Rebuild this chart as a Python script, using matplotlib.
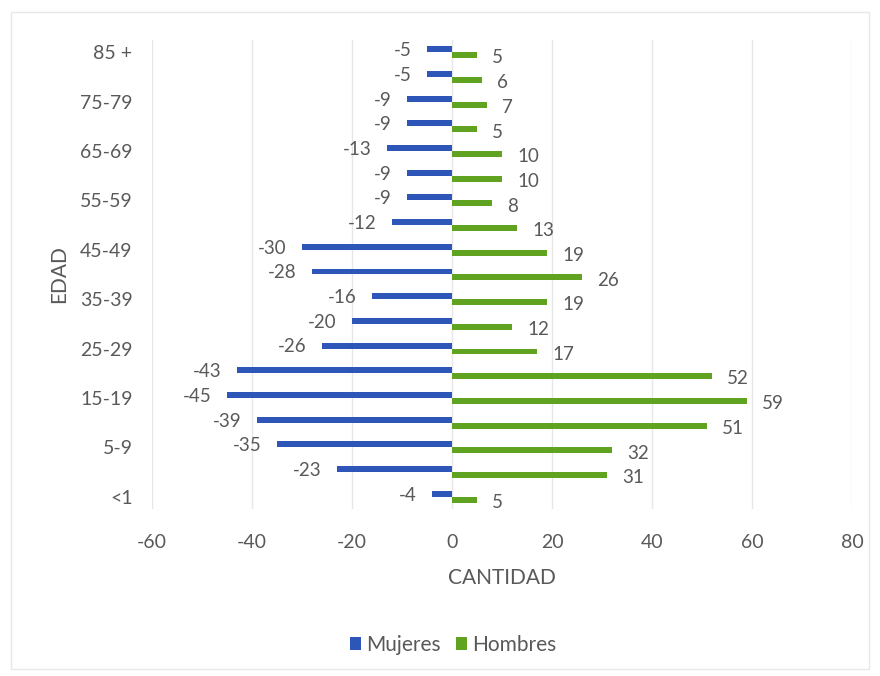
import matplotlib
matplotlib.use('Agg')
import matplotlib.pyplot as plt
from matplotlib.patches import Rectangle
import numpy as np

# Data: age groups from youngest to oldest
grupos = ['<1', '1-4', '5-9', '10-14', '15-19', '20-24', '25-29', '30-34', '35-39',
          '40-44', '45-49', '50-54', '55-59', '60-64', '65-69', '70-74', '75-79',
          '80-84', '85 +']
mujeres = [-4, -23, -35, -39, -45, -43, -26, -20, -16, -28, -30, -12, -9, -9, -13,
           -9, -9, -5, -5]
hombres = [5, 31, 32, 51, 59, 52, 17, 12, 19, 26, 19, 13, 8, 10, 10, 5, 7, 6, 5]

azul = '#2E55B8'
verde = '#5FA321'
gris = '#595959'

plt.rcParams['font.family'] = ['Lato', 'DejaVu Sans']
plt.rcParams['axes.unicode_minus'] = False

fig = plt.figure(figsize=(8.8, 6.76), dpi=100)
ax = fig.add_axes([0.1727, 0.247, 0.7955, 0.694])

y = np.arange(len(grupos))
h = 0.24
ax.barh(y + h / 2, mujeres, height=h, color=azul, label='Mujeres')
ax.barh(y - h / 2, hombres, height=h, color=verde, label='Hombres')

# Data labels
for yi, v in zip(y, mujeres):
    ax.annotate(str(v), (v, yi + h / 2), xytext=(-11, -1), textcoords='offset points',
                ha='right', va='center', fontsize=13.5, color=gris)
for yi, v in zip(y, hombres):
    ax.annotate(str(v), (v, yi - h / 2), xytext=(11, -2), textcoords='offset points',
                ha='left', va='center', fontsize=13.5, color=gris)

ax.set_xlim(-60, 80)
ax.set_ylim(-0.5, len(grupos) - 0.5)
ax.set_xticks(range(-60, 81, 20))
ax.set_yticks(y[::2])
ax.set_yticklabels(grupos[::2])
ax.tick_params(axis='both', length=0, labelsize=14, labelcolor=gris)
ax.tick_params(axis='y', pad=14)
ax.tick_params(axis='x', pad=18)
ax.grid(axis='x', color='#E6E6E6', linewidth=1)
ax.set_axisbelow(True)
for s in ax.spines.values():
    s.set_visible(False)

ax.set_xlabel('CANTIDAD', fontsize=15, color=gris, labelpad=12)
ax.set_ylabel('EDAD', fontsize=15, color=gris, labelpad=8)

leg = fig.legend(loc='center', bbox_to_anchor=(0.515, 0.046), ncol=2, frameon=False,
                 fontsize=15, handlelength=0.55, handleheight=0.55, handletextpad=0.25,
                 columnspacing=0.7)
for t in leg.get_texts():
    t.set_color(gris)

# Light chart border
fig.patches.append(Rectangle((0.012, 0.01), 0.976, 0.972, transform=fig.transFigure,
                             fill=False, edgecolor='#E8E8E8', linewidth=1))

fig.savefig('out.png', dpi=100)
